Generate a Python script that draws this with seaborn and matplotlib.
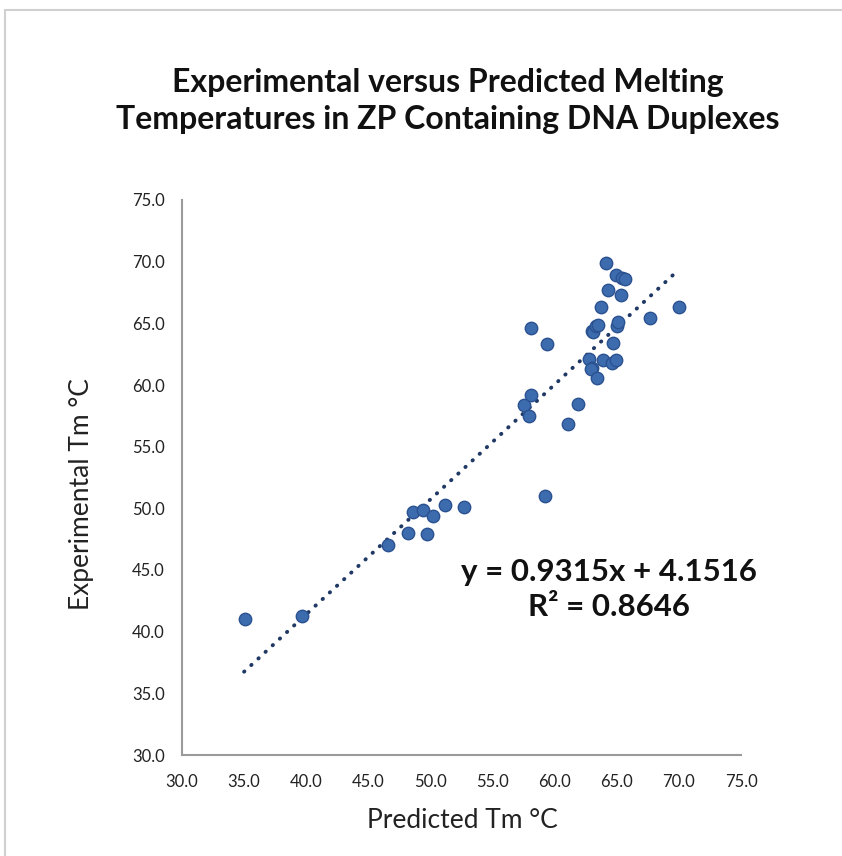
import matplotlib
matplotlib.use("Agg")
import matplotlib.pyplot as plt
import seaborn as sns
import numpy as np
import pandas as pd
from matplotlib.patches import Rectangle

predicted = [35.1, 39.7, 46.6, 48.2, 48.6, 49.4, 49.7, 50.2, 51.2, 52.7,
             57.5, 57.9, 58.1, 58.1, 59.4, 61.1, 61.9,
             62.8, 63.0, 62.9, 63.4, 63.9, 64.6, 64.9, 64.7,
             63.0, 63.1, 63.3, 63.5, 65.0, 65.1,
             63.7, 64.1, 64.3, 64.9, 65.4, 65.3, 65.7, 67.7, 70.0, 59.2]
experimental = [41.0, 41.3, 47.0, 48.0, 49.7, 49.9, 47.9, 49.4, 50.3, 50.1,
                58.4, 57.5, 59.2, 64.6, 63.3, 56.8, 58.5,
                62.1, 61.4, 61.3, 60.6, 62.0, 61.8, 62.0, 63.4,
                64.4, 64.3, 64.8, 64.9, 64.8, 65.1,
                66.3, 69.9, 67.7, 68.9, 68.7, 67.3, 68.6, 65.4, 66.3, 51.0]
slope, intercept = 0.9315, 4.1516
r2 = 0.8646
x_ticks = [30, 35, 40, 45, 50, 55, 60, 65, 70, 75]
y_ticks = [30, 35, 40, 45, 50, 55, 60, 65, 70, 75]

sns.set_style("white")
plt.rcParams['font.family'] = ['Lato', 'DejaVu Sans']

fig = plt.figure(figsize=(8.42, 8.56), dpi=100)
ax = fig.add_axes([182/842, 101/856, 559/842, 555/856])

df = pd.DataFrame({"Predicted": predicted, "Experimental": experimental})
sns.scatterplot(data=df, x="Predicted", y="Experimental", ax=ax, s=80,
                color="#3d6cae", edgecolor="#2a5190", linewidth=1.0, zorder=3)

xl = np.array([35.0, 70.0])
ax.plot(xl, slope * xl + intercept, linestyle=(0, (0.1, 2.4)), dash_capstyle="round",
        color="#1f3864", linewidth=2.8, zorder=2)

ax.set_xlim(30, 75)
ax.set_ylim(30, 75)
ax.set_xticks(x_ticks)
ax.set_yticks(y_ticks)
ax.set_xticklabels([f"{v:.1f}" for v in x_ticks], fontsize=12, color="#222222")
ax.set_yticklabels([f"{v:.1f}" for v in y_ticks], fontsize=12, color="#222222")
ax.tick_params(axis='x', direction='out', length=4.5, width=1.2, color="#9a9a9a", pad=9)
ax.tick_params(axis='y', direction='out', length=4.5, width=1.2, color="#9a9a9a", pad=8)
for s in ["top", "right"]:
    ax.spines[s].set_visible(False)
for s in ["left", "bottom"]:
    ax.spines[s].set_color("#9a9a9a")
    ax.spines[s].set_linewidth(1.5)

ax.set_xlabel("Predicted Tm °C", fontsize=19, color="#222222")
ax.set_ylabel("Experimental Tm °C", fontsize=19, color="#222222")
ax.xaxis.label.set_va("center")
ax.yaxis.label.set_va("center")
ax.xaxis.set_label_coords((462 - 182) / 559, -(821 - 755) / 555)
ax.yaxis.set_label_coords((82 - 182) / 559, (755 - 494) / 555)

fig.text(0.532, 0.882, "Experimental versus Predicted Melting\nTemperatures in ZP Containing DNA Duplexes",
         ha="center", va="center", fontsize=23, fontweight="bold", color="#111111",
         linespacing=1.35)

ax.text(64.4, 43.4, f"y = {slope}x + {intercept}\nR² = {r2}", ha="center", va="center",
        fontsize=22.5, fontweight="bold", color="#111111", linespacing=1.3)

fig.patches.append(Rectangle((5/842, -0.1), 1.2, (856-10)/856 + 0.1, transform=fig.transFigure,
                             fill=False, edgecolor="#d0d0d0", linewidth=1.5))

fig.savefig("out.png", dpi=100)
